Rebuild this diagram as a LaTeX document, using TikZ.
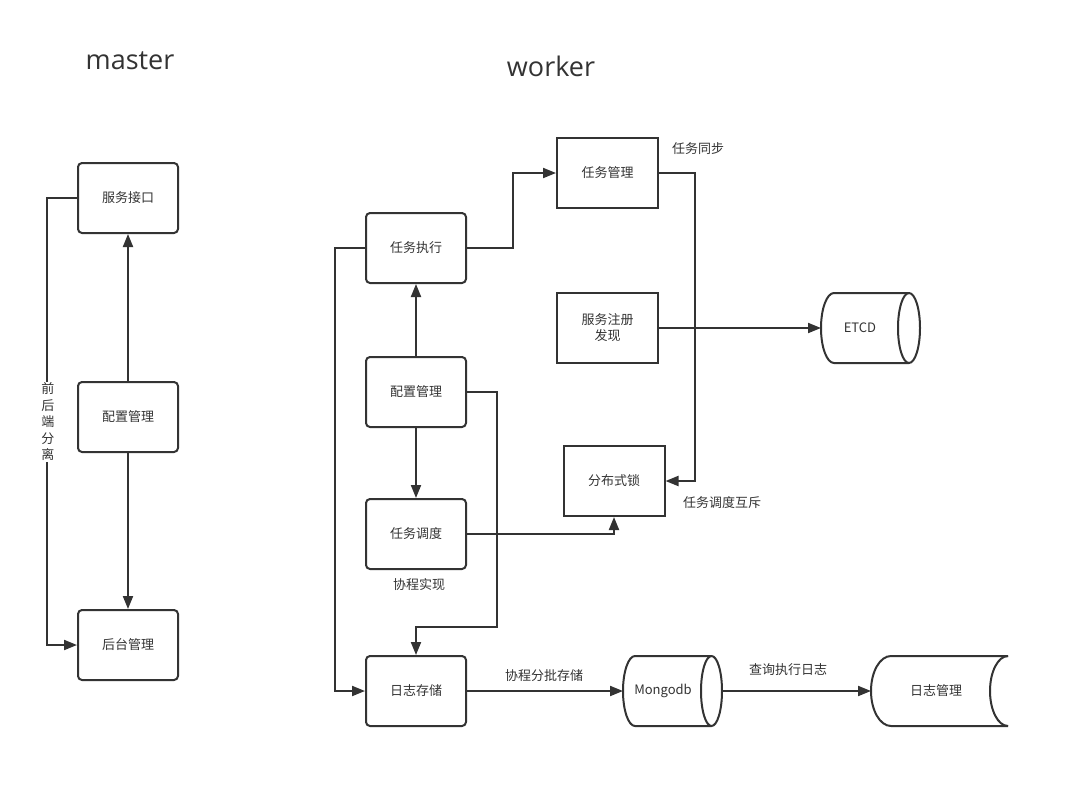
\documentclass[tikz,border=0pt]{standalone}
\usepackage{fontspec}
\newfontfamily\cjk{Noto Sans CJK SC}
\newfontfamily\titlefont{Open Sans}
\usetikzlibrary{arrows.meta}
\definecolor{dc}{HTML}{333333}
\tikzset{
  x=1pt, y=-1pt,
  line/.style={draw=dc, line width=2pt},
  arr/.style={line, -{Triangle[length=13pt,width=10pt]}},
  rbox/.style={draw=dc, line width=2pt, rounded corners=4pt, minimum width=100pt, minimum height=70pt, inner sep=0pt, font=\cjk\fontsize{13}{16}\selectfont, text=dc, align=center},
  sbox/.style={draw=dc, line width=2pt, minimum width=101pt, minimum height=70pt, inner sep=0pt, font=\cjk\fontsize{13}{16}\selectfont, text=dc, align=center},
  cylbox/.style={minimum height=70pt, inner sep=0pt, outer sep=0pt},
  txt/.style={font=\cjk\fontsize{13}{16}\selectfont, text=dc, inner sep=1pt, align=center},
  ttl/.style={font=\titlefont\fontsize{27}{31}\selectfont, text=dc, inner sep=0pt}
}
\begin{document}
\begin{tikzpicture}
\useasboundingbox (0,0) rectangle (1069,788);

% titles
\node[ttl] (tmaster) at (130,61) {master};
\node[ttl] (tworker) at (551,66) {worker};

% master column
\node[rbox] (api) at (128,198) {服务接口};
\node[rbox] (mcfg) at (128,417) {配置管理};
\node[rbox] (admin) at (128,645) {后台管理};
\draw[arr] (mcfg) -- (api);
\draw[arr] (mcfg) -- (admin);
\draw[arr] (api.west) -- ++(-30,0) |- (admin.west);
\node[txt, fill=white, font=\cjk\fontsize{13}{16.5}\selectfont] (sepl) at (48,422) {前\\后\\端\\分\\离};

% worker column
\node[rbox] (exec) at (416,248) {任务执行};
\node[rbox] (wcfg) at (416,392) {配置管理};
\node[rbox] (sched) at (416,534) {任务调度};
\node[rbox] (logst) at (416,691) {日志存储};
\node[sbox] (tmgr) at (607.5,173) {任务管理};
\node[sbox] (reg) at (607.5,328) {服务注册\\发现};
\node[sbox] (lock) at (614,481) {分布式锁};

% cylinders
\node[cylbox, minimum width=99pt] (etcd) at (870.5,328) {};
\draw[line] ([xshift=13pt]etcd.north west) -- ([xshift=-11pt]etcd.north east)
  arc[start angle=90,end angle=-90,x radius=11pt,y radius=35pt]
  -- ([xshift=13pt]etcd.south west)
  arc[start angle=270,end angle=90,x radius=13pt,y radius=35pt] -- cycle;
\draw[line] ([xshift=-11pt]etcd.north east) arc[start angle=90,end angle=270,x radius=11pt,y radius=35pt];
\node[txt] (etcdt) at (860,328) {ETCD};

\node[cylbox, minimum width=99pt] (mongo) at (672.5,691) {};
\draw[line] ([xshift=12pt]mongo.north west) -- ([xshift=-10.5pt]mongo.north east)
  arc[start angle=90,end angle=-90,x radius=10.5pt,y radius=35pt]
  -- ([xshift=12pt]mongo.south west)
  arc[start angle=270,end angle=90,x radius=12pt,y radius=35pt] -- cycle;
\draw[line] ([xshift=-10.5pt]mongo.north east) arc[start angle=90,end angle=270,x radius=10.5pt,y radius=35pt];
\node[txt] (mongot) at (663,691) {Mongodb};

\node[cylbox, minimum width=155pt] (logmgr) at (948.5,691) {};
\draw[line] ([xshift=-18pt]logmgr.north east) -- ([xshift=20pt]logmgr.north west)
  arc[start angle=90,end angle=270,x radius=20pt,y radius=35pt]
  -- ([xshift=-18pt]logmgr.south east);
\draw[line] ([xshift=-18pt]logmgr.north east) arc[start angle=90,end angle=270,x radius=18pt,y radius=35pt];
\node[txt] (logmgrt) at (936,691) {日志管理};

% worker connectors
\draw[arr] (wcfg) -- (exec);
\draw[arr] (wcfg) -- (sched);
\draw[arr] (exec.east) -- ++(46,0) |- (tmgr.west);
\draw[arr] (exec.west) -- ++(-30,0) |- (logst.west);
\draw[arr] (wcfg.east) -- ++(30,0) -- ++(0,235) -| (logst.north);
\draw[arr] (sched.east) -| (lock.south);
\draw[arr] (tmgr.east) -- ++(36,0) |- (lock.east);
\draw[arr] (reg.east) -- (etcd.west);
\draw[arr] (logst.east) -- (mongo.west);
\draw[arr] (mongo.east) -- (logmgr.west);

% labels
\node[txt] (l1) at (698,149) {任务同步};
\node[txt] (l2) at (722,503) {任务调度互斥};
\node[txt] (l3) at (419,585) {协程实现};
\node[txt] (l4) at (544,676) {协程分批存储};
\node[txt] (l5) at (788,670) {查询执行日志};
\end{tikzpicture}
\end{document}
